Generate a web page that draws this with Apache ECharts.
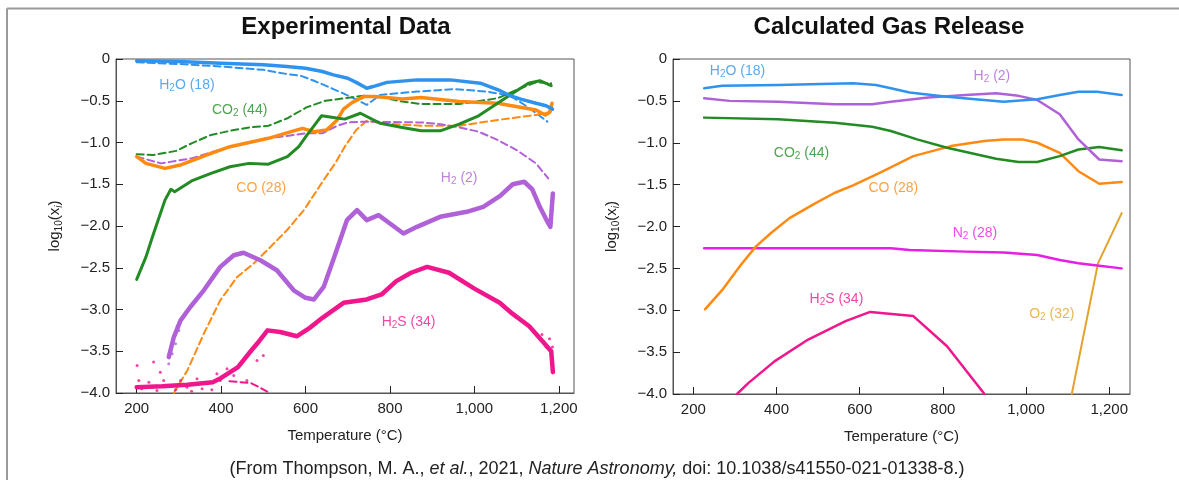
<!DOCTYPE html>
<html>
<head>
<meta charset="utf-8">
<title>Experimental data vs calculated gas release</title>
<script src="https://cdn.jsdelivr.net/npm/echarts@6/dist/echarts.min.js"></script>
<style>
  html, body { margin: 0; padding: 0; background: #fff; }
  #chart { width: 1179px; height: 480px; }
</style>
</head>
<body>
<div id="chart"></div>
<script>
// x ticks shared by both panels (°C)
const tempTicks = [200, 400, 600, 800, 1000, 1200];

// ---- Experimental data, points are [temperature °C, log10(x_i)] ----
const expH2O = [[200,-0.02],[300,-0.03],[400,-0.05],[500,-0.07],[556,-0.09],[600,-0.11],[640,-0.15],[666,-0.19],[700,-0.23],[720,-0.28],[745,-0.35],[760,-0.33],[793,-0.28],[864,-0.25],[943,-0.25],[1014,-0.29],[1061,-0.38],[1085,-0.44],[1110,-0.48],[1146,-0.53],[1170,-0.56],[1185,-0.6]];
const expH2OModel = [[200,-0.04],[300,-0.06],[400,-0.09],[500,-0.13],[556,-0.18],[588,-0.2],[620,-0.26],[666,-0.36],[706,-0.45],[745,-0.55],[777,-0.43],[864,-0.39],[951,-0.36],[1030,-0.39],[1085,-0.44],[1128,-0.58],[1173,-0.75]];
const expCO2 = [[200,-2.64],[222,-2.37],[240,-2.09],[267,-1.69],[281,-1.56],[290,-1.59],[330,-1.46],[376,-1.37],[421,-1.29],[466,-1.25],[512,-1.26],[557,-1.17],[584,-1.05],[602,-0.92],[620,-0.8],[638,-0.68],[666,-0.7],[693,-0.72],[730,-0.65],[777,-0.77],[829,-0.82],[874,-0.86],[919,-0.86],[964,-0.78],[1010,-0.68],[1055,-0.53],[1100,-0.38],[1128,-0.29],[1155,-0.26],[1182,-0.32]];
const expCO2Model = [[200,-1.14],[240,-1.15],[294,-1.1],[330,-1.01],[376,-0.91],[421,-0.86],[466,-0.82],[512,-0.8],[557,-0.71],[602,-0.58],[647,-0.5],[693,-0.47],[738,-0.44],[783,-0.46],[829,-0.51],[874,-0.54],[964,-0.54],[1055,-0.47],[1100,-0.37],[1146,-0.28],[1182,-0.29]];
const expCO = [[200,-1.17],[222,-1.25],[267,-1.31],[303,-1.27],[376,-1.13],[421,-1.05],[512,-0.95],[566,-0.87],[593,-0.83],[620,-0.87],[650,-0.85],[675,-0.73],[690,-0.6],[711,-0.52],[738,-0.45],[765,-0.45],[829,-0.48],[874,-0.46],[964,-0.51],[1055,-0.53],[1146,-0.61],[1168,-0.67],[1178,-0.64],[1184,-0.53]];
const expCOModel = [[288,-4.0],[320,-3.73],[359,-3.29],[398,-2.89],[438,-2.61],[477,-2.45],[517,-2.25],[556,-2.05],[596,-1.81],[643,-1.45],[670,-1.25],[693,-1.05],[720,-0.85],[745,-0.74],[783,-0.77],[874,-0.8],[964,-0.8],[1055,-0.73],[1146,-0.67],[1182,-0.63]];
const expH2 = [[276,-3.57],[288,-3.33],[304,-3.13],[327,-2.97],[359,-2.77],[398,-2.49],[430,-2.35],[453,-2.32],[493,-2.41],[532,-2.53],[572,-2.77],[600,-2.86],[620,-2.88],[643,-2.73],[666,-2.4],[698,-1.93],[722,-1.81],[745,-1.93],[773,-1.87],[800,-1.97],[832,-2.09],[864,-2.01],[919,-1.89],[982,-1.83],[1021,-1.77],[1061,-1.64],[1091,-1.5],[1118,-1.47],[1137,-1.56],[1155,-1.77],[1173,-1.95],[1180,-2.01],[1186,-1.61]];
const expH2Model = [[200,-1.17],[258,-1.25],[330,-1.19],[421,-1.05],[512,-0.95],[602,-0.89],[640,-0.89],[675,-0.8],[700,-0.76],[745,-0.75],[874,-0.76],[920,-0.78],[964,-0.82],[1010,-0.87],[1055,-0.97],[1100,-1.09],[1146,-1.25],[1175,-1.43]];
const expH2S = [[200,-3.93],[260,-3.92],[320,-3.9],[380,-3.87],[400,-3.82],[440,-3.69],[470,-3.5],[490,-3.38],[510,-3.25],[540,-3.27],[580,-3.32],[610,-3.22],[640,-3.1],[690,-2.92],[745,-2.88],[780,-2.82],[815,-2.66],[850,-2.56],[888,-2.49],[940,-2.56],[1000,-2.75],[1060,-2.92],[1090,-3.05],[1130,-3.2],[1165,-3.4],[1182,-3.5],[1186,-3.75]];
const expH2SModel = [[420,-3.86],[470,-3.88],[490,-3.93],[515,-4.0]];
// loose points of the noisy low-signal traces
const expH2SStray = [[201,-3.67],[205,-3.85],[212,-3.95],[229,-3.87],[240,-3.63],[248,-3.97],[256,-3.75],[264,-3.85],[280,-3.91],[292,-3.96],[304,-3.85],[319,-3.93],[330,-3.98],[343,-3.83],[355,-3.95],[367,-3.89],[378,-3.96],[390,-3.77],[398,-3.85],[414,-3.71],[430,-3.79],[446,-3.65],[461,-3.85],[485,-3.61],[500,-3.55],[1160,-3.3],[1170,-3.45],[1178,-3.35],[1183,-3.6],[1185,-3.45]];
const expH2Stray = [[276,-3.65],[282,-3.45],[284,-3.53],[292,-3.41],[296,-3.2],[300,-3.25],[310,-3.1]];

// ---- Calculated gas release ----
const calcH2O = [[226,-0.35],[269,-0.32],[404,-0.31],[584,-0.29],[639,-0.31],[675,-0.35],[720,-0.40],[810,-0.45],[946,-0.51],[1027,-0.48],[1081,-0.43],[1126,-0.39],[1171,-0.39],[1230,-0.43]];
const calcH2 = [[226,-0.47],[287,-0.5],[404,-0.51],[540,-0.54],[630,-0.54],[675,-0.51],[765,-0.46],[855,-0.43],[928,-0.41],[982,-0.44],[1027,-0.49],[1081,-0.66],[1126,-0.96],[1176,-1.2],[1230,-1.22]];
const calcCO2 = [[226,-0.7],[404,-0.72],[540,-0.76],[630,-0.81],[675,-0.86],[738,-0.96],[810,-1.06],[928,-1.19],[982,-1.23],[1027,-1.23],[1081,-1.16],[1126,-1.08],[1176,-1.05],[1230,-1.09]];
const calcCO = [[228,-2.99],[269,-2.76],[314,-2.46],[350,-2.24],[386,-2.08],[431,-1.9],[494,-1.72],[539,-1.6],[584,-1.51],[648,-1.36],[729,-1.16],[819,-1.04],[900,-0.98],[946,-0.96],[991,-0.96],[1027,-1.0],[1081,-1.12],[1126,-1.34],[1176,-1.49],[1230,-1.47]];
const calcN2 = [[226,-2.26],[675,-2.26],[720,-2.28],[855,-2.3],[946,-2.31],[1027,-2.34],[1081,-2.4],[1126,-2.44],[1176,-2.47],[1230,-2.5]];
const calcH2S = [[305,-4.0],[332,-3.87],[395,-3.61],[476,-3.35],[566,-3.13],[625,-3.02],[729,-3.07],[810,-3.43],[900,-4.0]];
const calcO2 = [[1110,-4.0],[1173,-2.44],[1230,-1.84]];

// species labels: [temperature, log value, text]
const expLabels = [[319,-0.31,'H{s|2}O (18)'],[444,-0.61,'CO{s|2} (44)'],[495,-1.55,'CO (28)'],[964,-1.43,'H{s|2} (2)'],[844,-3.15,'H{s|2}S (34)']];
const calcLabels = [[306,-0.15,'H{s|2}O (18)'],[918,-0.21,'H{s|2} (2)'],[460,-1.12,'CO{s|2} (44)'],[681,-1.54,'CO (28)'],[877,-2.08,'N{s|2} (28)'],[544,-2.87,'H{s|2}S (34)'],[1062,-3.05,'O{s|2} (32)']];

const FONT = '"Liberation Sans", Arial, Helvetica, sans-serif';
const BLUE = '#2f93ee', GREEN = '#238b23', ORANGE = '#ff8a12', PURPLE = '#b061d8',
      PINK = '#f0168c', MAGENTA = '#e81ee8', GOLD = '#e3a32a';
const expLabelColors = [BLUE, GREEN, ORANGE, PURPLE, PINK];
const calcLabelColors = [BLUE, PURPLE, GREEN, ORANGE, MAGENTA, PINK, GOLD];

function line(data, color, idx, width, dashed) {
  return {
    type: 'line', xAxisIndex: idx, yAxisIndex: idx, data: data,
    showSymbol: false, symbol: 'none', silent: true, animation: false,
    clip: true,
    lineStyle: { color: color, width: width, type: dashed ? [7, 4] : 'solid', cap: 'round', join: 'round' },
    z: dashed ? 2 : 3
  };
}

function stray(data, color) {
  return {
    type: 'scatter', xAxisIndex: 0, yAxisIndex: 0, data: data,
    symbolSize: 3, silent: true, animation: false, clip: true,
    itemStyle: { color: color }
  };
}

const subStyle = { fontSize: 10, fontFamily: FONT, verticalAlign: 'bottom', padding: [9, 0, 0, 0] };

function labels(list, colors, idx) {
  return {
    type: 'scatter', xAxisIndex: idx, yAxisIndex: idx, symbolSize: 0, silent: true, animation: false,
    data: list.map((d, i) => ({
      value: [d[0], d[1]],
      label: { formatter: d[2], color: colors[i] }
    })),
    label: {
      show: true, position: 'inside', fontSize: 14, fontFamily: FONT, lineHeight: 16,
      rich: { s: subStyle }
    },
    z: 5
  };
}

function xAxis(idx, max) {
  return {
    type: 'value', gridIndex: idx, min: 151, max: max,
    axisLine: { show: true, onZero: false, lineStyle: { color: '#555', width: 1 } },
    axisTick: { show: true, inside: true, length: 7, customValues: tempTicks, lineStyle: { color: '#222' } },
    axisLabel: { customValues: tempTicks, color: '#222', fontSize: 15, fontFamily: FONT, margin: 8,
      formatter: v => v.toLocaleString('en-US') },
    splitLine: { show: false },
    name: 'Temperature (°C)', nameLocation: 'middle', nameGap: 35,
    nameTextStyle: { color: '#222', fontSize: 15, fontFamily: FONT }
  };
}

function yAxis(idx) {
  return {
    type: 'value', gridIndex: idx, min: -4, max: 0, interval: 0.5,
    axisLine: { show: true, onZero: false, lineStyle: { color: '#555', width: 1 } },
    axisTick: { show: true, inside: true, length: 7, lineStyle: { color: '#222' } },
    axisLabel: { color: '#222', fontSize: 15, fontFamily: FONT, margin: 6,
      formatter: v => v === 0 ? '0' : '\u2212' + Math.abs(v).toFixed(1) },
    splitLine: { show: false },
    name: 'log{s|10}(x{si|i})', nameLocation: 'middle', nameRotate: 90, nameGap: 52,
    nameTextStyle: { color: '#222', fontSize: 15, fontFamily: FONT,
      rich: {
        s: { fontSize: 10, fontFamily: FONT, color: '#222', verticalAlign: 'bottom', padding: [9, 0, 0, 0] },
        si: { fontSize: 10, fontFamily: FONT, fontStyle: 'italic', color: '#222', verticalAlign: 'bottom', padding: [9, 0, 0, 0] }
      } }
  };
}

const chart = echarts.init(document.getElementById('chart'));

chart.setOption({
  backgroundColor: '#fff',
  animation: false,
  grid: [
    { left: 116, top: 59, width: 458, height: 334, show: true, borderColor: '#555', borderWidth: 1, outerBoundsMode: 'none', containLabel: false },
    { left: 673, top: 59, width: 457, height: 335, show: true, borderColor: '#555', borderWidth: 1, outerBoundsMode: 'none', containLabel: false }
  ],
  xAxis: [xAxis(0, 1236), xAxis(1, 1250)],
  yAxis: [yAxis(0), yAxis(1)],
  series: [
    line(expH2OModel, BLUE, 0, 2, true),
    line(expCO2Model, GREEN, 0, 2, true),
    line(expCOModel, ORANGE, 0, 2, true),
    line(expH2Model, PURPLE, 0, 2, true),
    line(expH2SModel, PINK, 0, 2, true),
    stray(expH2SStray, PINK),
    stray(expH2Stray, PURPLE),
    line(expH2S, PINK, 0, 4.5, false),
    line(expH2, PURPLE, 0, 4.5, false),
    line(expCO, ORANGE, 0, 3.5, false),
    line(expCO2, GREEN, 0, 3, false),
    line(expH2O, BLUE, 0, 3.5, false),
    labels(expLabels, expLabelColors, 0),

    line(calcO2, GOLD, 1, 2, false),
    line(calcH2S, PINK, 1, 2.5, false),
    line(calcN2, MAGENTA, 1, 2.5, false),
    line(calcCO, ORANGE, 1, 2.5, false),
    line(calcCO2, GREEN, 1, 2.5, false),
    line(calcH2, PURPLE, 1, 2.5, false),
    line(calcH2O, BLUE, 1, 2.5, false),
    labels(calcLabels, calcLabelColors, 1)
  ],
  graphic: [
    { type: 'line', shape: { x1: 7, y1: 8.5, x2: 1179, y2: 8.5 }, style: { stroke: '#9a9a9a', lineWidth: 2 }, silent: true },
    { type: 'line', shape: { x1: 7, y1: 8.5, x2: 7, y2: 480 }, style: { stroke: '#9a9a9a', lineWidth: 2 }, silent: true },
    { type: 'text', x: 346, y: 27, silent: true,
      style: { text: 'Experimental Data', fill: '#111', font: 'bold 24px ' + FONT, align: 'center', verticalAlign: 'middle' } },
    { type: 'text', x: 889, y: 27, silent: true,
      style: { text: 'Calculated Gas Release', fill: '#111', font: 'bold 24px ' + FONT, align: 'center', verticalAlign: 'middle' } },
    { type: 'text', x: 597, y: 469, silent: true,
      style: {
        text: '(From Thompson, M. A., {i|et al.}, 2021, {i|Nature Astronomy,} doi: 10.1038/s41550-021-01338-8.)',
        fill: '#222', font: '18px ' + FONT, align: 'center', verticalAlign: 'middle',
        rich: { i: { fontStyle: 'italic', fontSize: 18, fontFamily: FONT, fill: '#222' } }
      } }
  ]
});
</script>
</body>
</html>
